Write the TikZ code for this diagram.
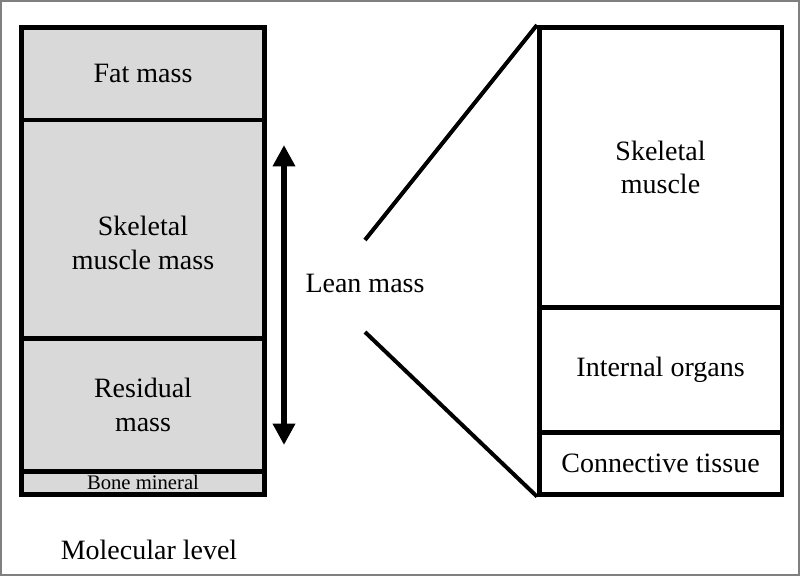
\documentclass[tikz,border=0pt]{standalone}
\usepackage{fontspec}
\setmainfont{Liberation Serif}
\usetikzlibrary{arrows.meta}

\definecolor{massgray}{RGB}{217,217,217}
\definecolor{framegray}{RGB}{128,128,128}

\begin{document}
\begin{tikzpicture}[x=0.75pt, y=-0.75pt,
    section/.style={draw, line width=3.4pt, inner sep=0pt, anchor=north west,
      align=center, font=\fontsize{21}{25}\selectfont},
    leftsec/.style={section, fill=massgray, minimum width=182.6pt},
    rightsec/.style={section, minimum width=181.9pt},
    bigtext/.style={font=\fontsize{21}{25}\selectfont, align=center}]
    \useasboundingbox (0,0) rectangle (800,576);
    \draw[framegray, line width=1.2pt] (1,1) rectangle (799,575);

    % Molecular level compartments
    \node[leftsec, minimum height=69.4pt] (fat) at (19,25) {Fat mass};
    \node[leftsec, minimum height=163.9pt,
      label={[bigtext, yshift=-10.5pt]center:Skeletal\\muscle mass}] (skel) at (19,117.5) {};
    \node[leftsec, minimum height=99.8pt] (resid) at (19,336) {Residual\\mass};
    \node[leftsec, minimum height=17.3pt, font=\fontsize{15.5}{17}\selectfont] (bone) at (19,469) {Bone mineral};
    \node[bigtext] (molec) at (149,550) {Molecular level};

    % Lean mass arrow
    \coordinate (lean top) at (284,145);
    \coordinate (lean bottom) at (284,445);
    \draw[line width=4.5pt, {Triangle[width=16pt,length=16pt]}-{Triangle[width=16pt,length=16pt]}]
      (lean top) -- (lean bottom);
    \node[bigtext] (lean) at (365,283) {Lean mass};

    % Lean mass components
    \node[rightsec, minimum height=210pt] (muscle) at (537,25) {Skeletal\\muscle};
    \node[rightsec, minimum height=93.4pt] (organs) at (537,305.5) {Internal organs};
    \node[rightsec, minimum height=46.5pt] (conn) at (537,430) {Connective tissue};

    % Zoom lines
    \coordinate (upper end) at (365,240);
    \coordinate (lower end) at (365,332);
    \draw[line width=3pt] (upper end) -- (muscle.north west);
    \draw[line width=3pt] (lower end) -- (conn.south west);
\end{tikzpicture}
\end{document}
